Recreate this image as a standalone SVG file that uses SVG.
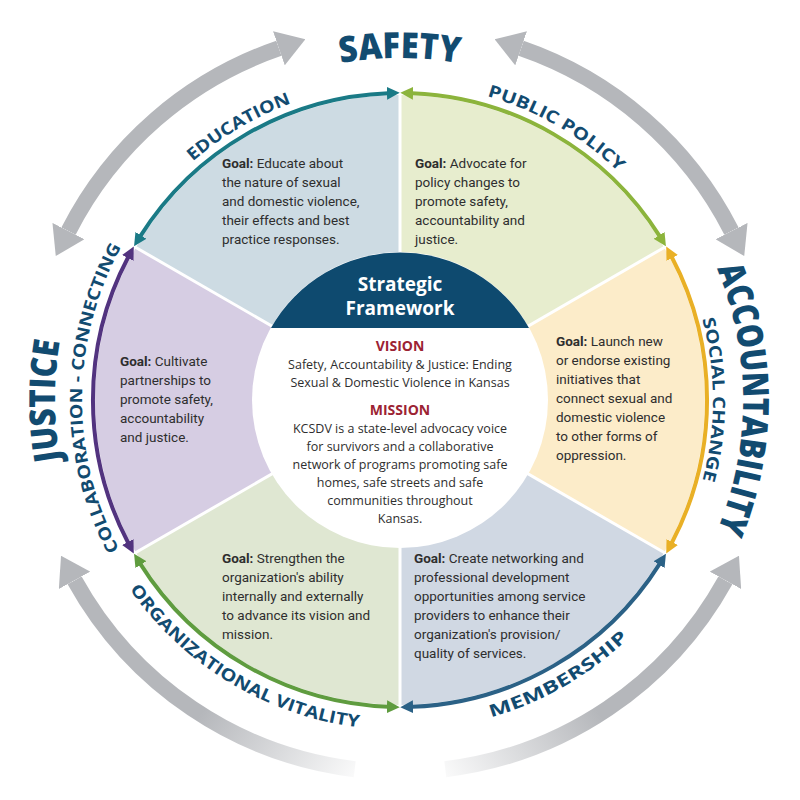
<svg xmlns="http://www.w3.org/2000/svg" width="800" height="800" viewBox="0 0 800 800">
<defs>
<style>
.g{font-family:Roboto,"Open Sans",sans-serif;font-size:13.5px;fill:#2e2e2e}
.g tspan.b{font-weight:bold}
.c{font-family:"Open Sans","Liberation Sans",sans-serif;font-size:12.5px;fill:#2e2e2e;text-anchor:middle}
.h{font-family:"Open Sans","Liberation Sans",sans-serif;font-size:14px;font-weight:bold;fill:#9c2333;text-anchor:middle}
.big{font-family:"Open Sans","Liberation Sans",sans-serif;font-weight:800;font-size:36px;fill:#124b70}
.sm{font-family:"Open Sans","Liberation Sans",sans-serif;font-weight:bold;font-size:17px;fill:#124b70}
.gray{fill:none;stroke:#b5b7bb;stroke-width:16}
.sep{stroke:#fff;stroke-width:3}
</style>
<marker id="gh" viewBox="0 0 28 36" markerUnits="userSpaceOnUse" markerWidth="28" markerHeight="36" refX="0" refY="18" orient="auto-start-reverse"><path d="M0,0 L28,18 L0,36 z" fill="#b5b7bb"/></marker>
<marker id="m1" viewBox="0 0 10 10" markerWidth="3.2" markerHeight="3.2" refX="1" refY="5" orient="auto-start-reverse"><path d="M0,0 L10,5 L0,10 z" fill="#1a7a86"/></marker>
<marker id="m2" viewBox="0 0 10 10" markerWidth="3.2" markerHeight="3.2" refX="1" refY="5" orient="auto-start-reverse"><path d="M0,0 L10,5 L0,10 z" fill="#8cb43c"/></marker>
<marker id="m3" viewBox="0 0 10 10" markerWidth="3.2" markerHeight="3.2" refX="1" refY="5" orient="auto-start-reverse"><path d="M0,0 L10,5 L0,10 z" fill="#e9b026"/></marker>
<marker id="m4" viewBox="0 0 10 10" markerWidth="3.2" markerHeight="3.2" refX="1" refY="5" orient="auto-start-reverse"><path d="M0,0 L10,5 L0,10 z" fill="#2b6186"/></marker>
<marker id="m5" viewBox="0 0 10 10" markerWidth="3.2" markerHeight="3.2" refX="1" refY="5" orient="auto-start-reverse"><path d="M0,0 L10,5 L0,10 z" fill="#5f9c3f"/></marker>
<marker id="m6" viewBox="0 0 10 10" markerWidth="3.2" markerHeight="3.2" refX="1" refY="5" orient="auto-start-reverse"><path d="M0,0 L10,5 L0,10 z" fill="#52337f"/></marker>
<linearGradient id="fl" gradientUnits="userSpaceOnUse" x1="80" y1="580" x2="370" y2="775"><stop offset="0" stop-color="#b5b7bb"/><stop offset="0.5" stop-color="#b5b7bb"/><stop offset="1" stop-color="#fff"/></linearGradient>
<linearGradient id="fr" gradientUnits="userSpaceOnUse" x1="720" y1="580" x2="430" y2="775"><stop offset="0" stop-color="#b5b7bb"/><stop offset="0.5" stop-color="#b5b7bb"/><stop offset="1" stop-color="#fff"/></linearGradient>
<path id="pSafety" d="M340.6,63.2 A342,342 0 0 1 459.4,63.2"/>
<path id="pAcc" d="M716.9,268.7 A343,343 0 0 1 716.9,531.3"/>
<path id="pJus" d="M60.2,459.9 A345,345 0 0 1 60.2,340.1"/>
<path id="pEdu" d="M192.7,161.5 A316,316 0 0 1 291.9,103.1"/>
<path id="pPol" d="M487.1,96.2 A316,316 0 0 1 619.5,172.7"/>
<path id="pSoc" d="M702.3,319 A313,313 0 0 1 702.3,481"/>
<path id="pCol" d="M119.2,549.3 A318,318 0 0 1 121.9,245.8"/>
<path id="pOrg" d="M129.7,589.3 A330,330 0 0 0 359.8,727.5"/>
<path id="pMem" d="M491,717.2 A330,330 0 0 0 629.2,637.4"/>
</defs>
<rect width="800" height="800" fill="#fff"/>

<g id="sectors">
<path d="M400,400 L135.9,247.5 A305,305 0 0 1 400,95 z" fill="#cddbe3"/>
<path d="M400,400 L400,95 A305,305 0 0 1 664.1,247.5 z" fill="#e7edce"/>
<path d="M400,400 L664.1,247.5 A305,305 0 0 1 664.1,552.5 z" fill="#fcecc9"/>
<path d="M400,400 L664.1,552.5 A305,305 0 0 1 400,705 z" fill="#d0d8e3"/>
<path d="M400,400 L400,705 A305,305 0 0 1 135.9,552.5 z" fill="#dfe7d2"/>
<path d="M400,400 L135.9,552.5 A305,305 0 0 1 135.9,247.5 z" fill="#d6cde3"/>
<line class="sep" x1="400" y1="400" x2="400" y2="93"/>
<line class="sep" x1="400" y1="400" x2="400" y2="707"/>
<line class="sep" x1="400" y1="400" x2="665.9" y2="246.5"/>
<line class="sep" x1="400" y1="400" x2="665.9" y2="553.5"/>
<line class="sep" x1="400" y1="400" x2="134.1" y2="246.5"/>
<line class="sep" x1="400" y1="400" x2="134.1" y2="553.5"/>
</g>

<g id="connectors">
<path d="M140.2,236.4 A307,307 0 0 1 388.2,93.2" fill="none" stroke="#1a7a86" stroke-width="4" marker-start="url(#m1)" marker-end="url(#m1)"/>
<path d="M411.8,93.2 A307,307 0 0 1 659.8,236.4" fill="none" stroke="#8cb43c" stroke-width="4" marker-start="url(#m2)" marker-end="url(#m2)"/>
<path d="M671.6,256.8 A307,307 0 0 1 671.6,543.2" fill="none" stroke="#e9b026" stroke-width="4" marker-start="url(#m3)" marker-end="url(#m3)"/>
<path d="M659.8,563.6 A307,307 0 0 1 411.8,706.8" fill="none" stroke="#2b6186" stroke-width="4" marker-start="url(#m4)" marker-end="url(#m4)"/>
<path d="M388.2,706.8 A307,307 0 0 1 140.2,563.6" fill="none" stroke="#5f9c3f" stroke-width="4" marker-start="url(#m5)" marker-end="url(#m5)"/>
<path d="M128.4,543.2 A307,307 0 0 1 128.4,256.8" fill="none" stroke="#52337f" stroke-width="4" marker-start="url(#m6)" marker-end="url(#m6)"/>
<path class="gray" d="M68.5,231.1 A372,372 0 0 1 278.9,48.3" marker-start="url(#gh)" marker-end="url(#gh)"/>
<path class="gray" d="M521.1,48.3 A372,372 0 0 1 731.5,231.1" marker-start="url(#gh)" marker-end="url(#gh)"/>
<path d="M354.7,769.2 A372,372 0 0 1 74.6,580.3" fill="none" stroke="url(#fl)" stroke-width="16" marker-end="url(#gh)"/>
<path d="M445.3,769.2 A372,372 0 0 0 725.4,580.3" fill="none" stroke="url(#fr)" stroke-width="16" marker-end="url(#gh)"/>
</g>

<g id="labels">
<text class="big" textLength="119" lengthAdjust="spacingAndGlyphs"><textPath href="#pSafety">SAFETY</textPath></text>
<text class="big" textLength="268" lengthAdjust="spacingAndGlyphs"><textPath href="#pAcc">ACCOUNTABILITY</textPath></text>
<text class="big" textLength="119" lengthAdjust="spacingAndGlyphs"><textPath href="#pJus">JUSTICE</textPath></text>
<text class="sm" textLength="115" lengthAdjust="spacingAndGlyphs"><textPath href="#pEdu">EDUCATION</textPath></text>
<text class="sm" textLength="153" lengthAdjust="spacingAndGlyphs"><textPath href="#pPol">PUBLIC  POLICY</textPath></text>
<text class="sm" textLength="163" lengthAdjust="spacingAndGlyphs"><textPath href="#pSoc">SOCIAL  CHANGE</textPath></text>
<text class="sm" textLength="315" lengthAdjust="spacingAndGlyphs"><textPath href="#pCol">COLLABORATION - CONNECTING</textPath></text>
<text class="sm" textLength="275" lengthAdjust="spacingAndGlyphs"><textPath href="#pOrg">ORGANIZATIONAL  VITALITY</textPath></text>
<text class="sm" textLength="160" lengthAdjust="spacingAndGlyphs"><textPath href="#pMem">MEMBERSHIP</textPath></text>
</g>

<g id="node-education">
<text class="g" x="222" y="168"><tspan class="b">Goal:</tspan> Educate about<tspan x="222" dy="19">the nature of sexual</tspan><tspan x="222" dy="19">and domestic violence,</tspan><tspan x="222" dy="19">their effects and best</tspan><tspan x="222" dy="19">practice responses.</tspan></text>
</g>
<g id="node-policy">
<text class="g" x="415" y="168"><tspan class="b">Goal:</tspan> Advocate for<tspan x="415" dy="19">policy changes to</tspan><tspan x="415" dy="19">promote safety,</tspan><tspan x="415" dy="19">accountability and</tspan><tspan x="415" dy="19">justice.</tspan></text>
</g>
<g id="node-social">
<text class="g" x="556" y="346"><tspan class="b">Goal:</tspan> Launch new<tspan x="556" dy="19">or endorse existing</tspan><tspan x="556" dy="19">initiatives that</tspan><tspan x="556" dy="19">connect sexual and</tspan><tspan x="556" dy="19">domestic violence</tspan><tspan x="556" dy="19">to other forms of</tspan><tspan x="556" dy="19">oppression.</tspan></text>
</g>
<g id="node-membership">
<text class="g" x="414" y="563"><tspan class="b">Goal:</tspan> Create networking and<tspan x="414" dy="19">professional development</tspan><tspan x="414" dy="19">opportunities among service</tspan><tspan x="414" dy="19">providers to enhance their</tspan><tspan x="414" dy="19">organization's  provision/</tspan><tspan x="414" dy="19">quality of services.</tspan></text>
</g>
<g id="node-org">
<text class="g" x="222" y="563"><tspan class="b">Goal:</tspan> Strengthen the<tspan x="222" dy="19">organization's ability</tspan><tspan x="222" dy="19">internally and externally</tspan><tspan x="222" dy="19">to advance its vision and</tspan><tspan x="222" dy="19">mission.</tspan></text>
</g>
<g id="node-collab">
<text class="g" x="120" y="366"><tspan class="b">Goal:</tspan> Cultivate<tspan x="120" dy="19">partnerships to</tspan><tspan x="120" dy="19">promote safety,</tspan><tspan x="120" dy="19">accountability</tspan><tspan x="120" dy="19">and justice.</tspan></text>
</g>

<g id="node-center">
<circle cx="400" cy="400" r="148" fill="#fff"/>
<path d="M271,328 A148,148 0 0 1 529,328 z" fill="#0e4a6f"/>
<text x="400" y="291" font-family="Open Sans, Liberation Sans, sans-serif" font-size="19" font-weight="bold" fill="#fff" text-anchor="middle">Strategic</text>
<text x="400" y="315" font-family="Open Sans, Liberation Sans, sans-serif" font-size="19" font-weight="bold" fill="#fff" text-anchor="middle">Framework</text>
<text class="h" x="400" y="351">VISION</text>
<text class="c" x="400" y="369">Safety, Accountability &amp; Justice: Ending</text>
<text class="c" x="400" y="387">Sexual &amp; Domestic Violence in Kansas</text>
<text class="h" x="400" y="415">MISSION</text>
<text class="c" x="400" y="433">KCSDV is a state-level advocacy voice</text>
<text class="c" x="400" y="451">for survivors and a collaborative</text>
<text class="c" x="400" y="469">network of programs promoting safe</text>
<text class="c" x="400" y="487">homes, safe streets and safe</text>
<text class="c" x="400" y="505">communities throughout</text>
<text class="c" x="400" y="523">Kansas.</text>
</g>
</svg>
